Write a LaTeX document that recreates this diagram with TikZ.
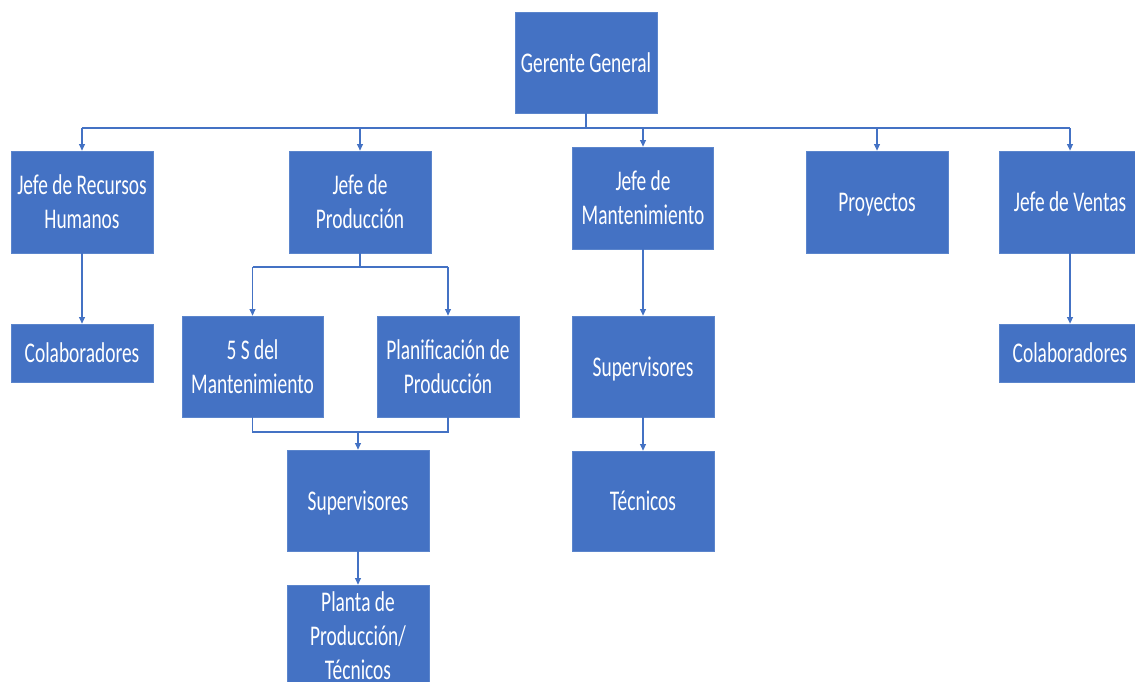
\documentclass[tikz,border=0pt]{standalone}
\usepackage{fontspec}
\usepackage{graphicx}
\setmainfont{Carlito}
\usetikzlibrary{arrows.meta}
\definecolor{blu}{HTML}{4472C4}
\definecolor{blued}{HTML}{5B85CC}
\newcommand\bt[1]{\raisebox{-3pt}[\height][\depth]{\scalebox{1}[1.47]{\begin{tabular}{@{}c@{}}#1\end{tabular}}}}
\tikzset{
  box/.style={fill=blu, draw=blued, line width=0.8pt, text=white, inner sep=0pt,
    minimum width=142pt, minimum height=101pt,
    font=\fontsize{19.4}{23}\selectfont},
  lowbox/.style={box, minimum height=58pt},
  conn/.style={draw=blu, line width=1.1pt},
  arr/.style={conn, -{Triangle[width=6pt,length=6.5pt]}},
}
\begin{document}
\begin{tikzpicture}[x=1pt,y=-1pt]
\useasboundingbox (0,0) rectangle (1135,681);
\clip (0,0) rectangle (1135,681);
% nodes
\node[box] (gg) at (586,62.5) {\bt{Gerente General}};
\node[box, minimum height=102pt] (rh) at (82,202) {\bt{Jefe de Recursos\\Humanos}};
\node[box, minimum height=102pt] (jp) at (360,202) {\bt{Jefe de\\Producción}};
\node[box, minimum height=102pt, minimum width=141pt] (jm) at (643,198) {\bt{Jefe de\\Mantenimiento}};
\node[box, minimum height=102pt] (pr) at (877,202) {\bt{Proyectos}};
\node[box, minimum height=102pt] (jv) at (1070,202) {\bt{Jefe de Ventas}};
\node[lowbox] (c1) at (82,353) {\bt{Colaboradores}};
\node[lowbox] (c2) at (1070,353) {\bt{Colaboradores}};
\node[box, minimum width=141pt] (s5) at (252.5,366.5) {\bt{5 S del\\Mantenimiento}};
\node[box] (pl) at (448,366.5) {\bt{Planificación de\\Producción}};
\node[box] (sp) at (358,500.5) {\bt{Supervisores}};
\node[box, minimum height=102pt] (pt) at (358,636) {\bt{Planta de\\Producción/\\Técnicos}};
\node[box] (sm) at (643,366.5) {\bt{Supervisores}};
\node[box, minimum height=100pt] (tc) at (643,501) {\bt{Técnicos}};
% coordinates
\coordinate (bus) at (0,128);
\coordinate (pbus) at (0,267);
\coordinate (mbus) at (0,432);
% top level
\draw[conn, line width=1.8pt] (gg.south) -- (gg.south |- bus);
\draw[conn] (rh.north |- bus) -- (jv.north |- bus);
\foreach \n in {rh,jp,jm,pr,jv}{
  \draw[arr] (\n.north |- bus) -- (\n.north);
}
% production branch
\draw[conn] (jp.south) -- (jp.south |- pbus);
\draw[conn] (s5.north |- pbus) -- (pl.north |- pbus);
\draw[arr] (s5.north |- pbus) -- (s5.north);
\draw[arr] (pl.north |- pbus) -- (pl.north);
\draw[conn] (s5.south) -- (s5.south |- mbus) -- (pl.south |- mbus) -- (pl.south);
\draw[arr] (sp.north |- mbus) -- (sp.north);
\draw[arr] (sp.south) -- (pt.north);
% maintenance branch
\draw[arr] (jm.south) -- (sm.north);
\draw[arr] (sm.south) -- (tc.north);
% side branches
\draw[arr] (rh.south) -- (c1.north);
\draw[arr] (jv.south) -- (c2.north);
\end{tikzpicture}
\end{document}
